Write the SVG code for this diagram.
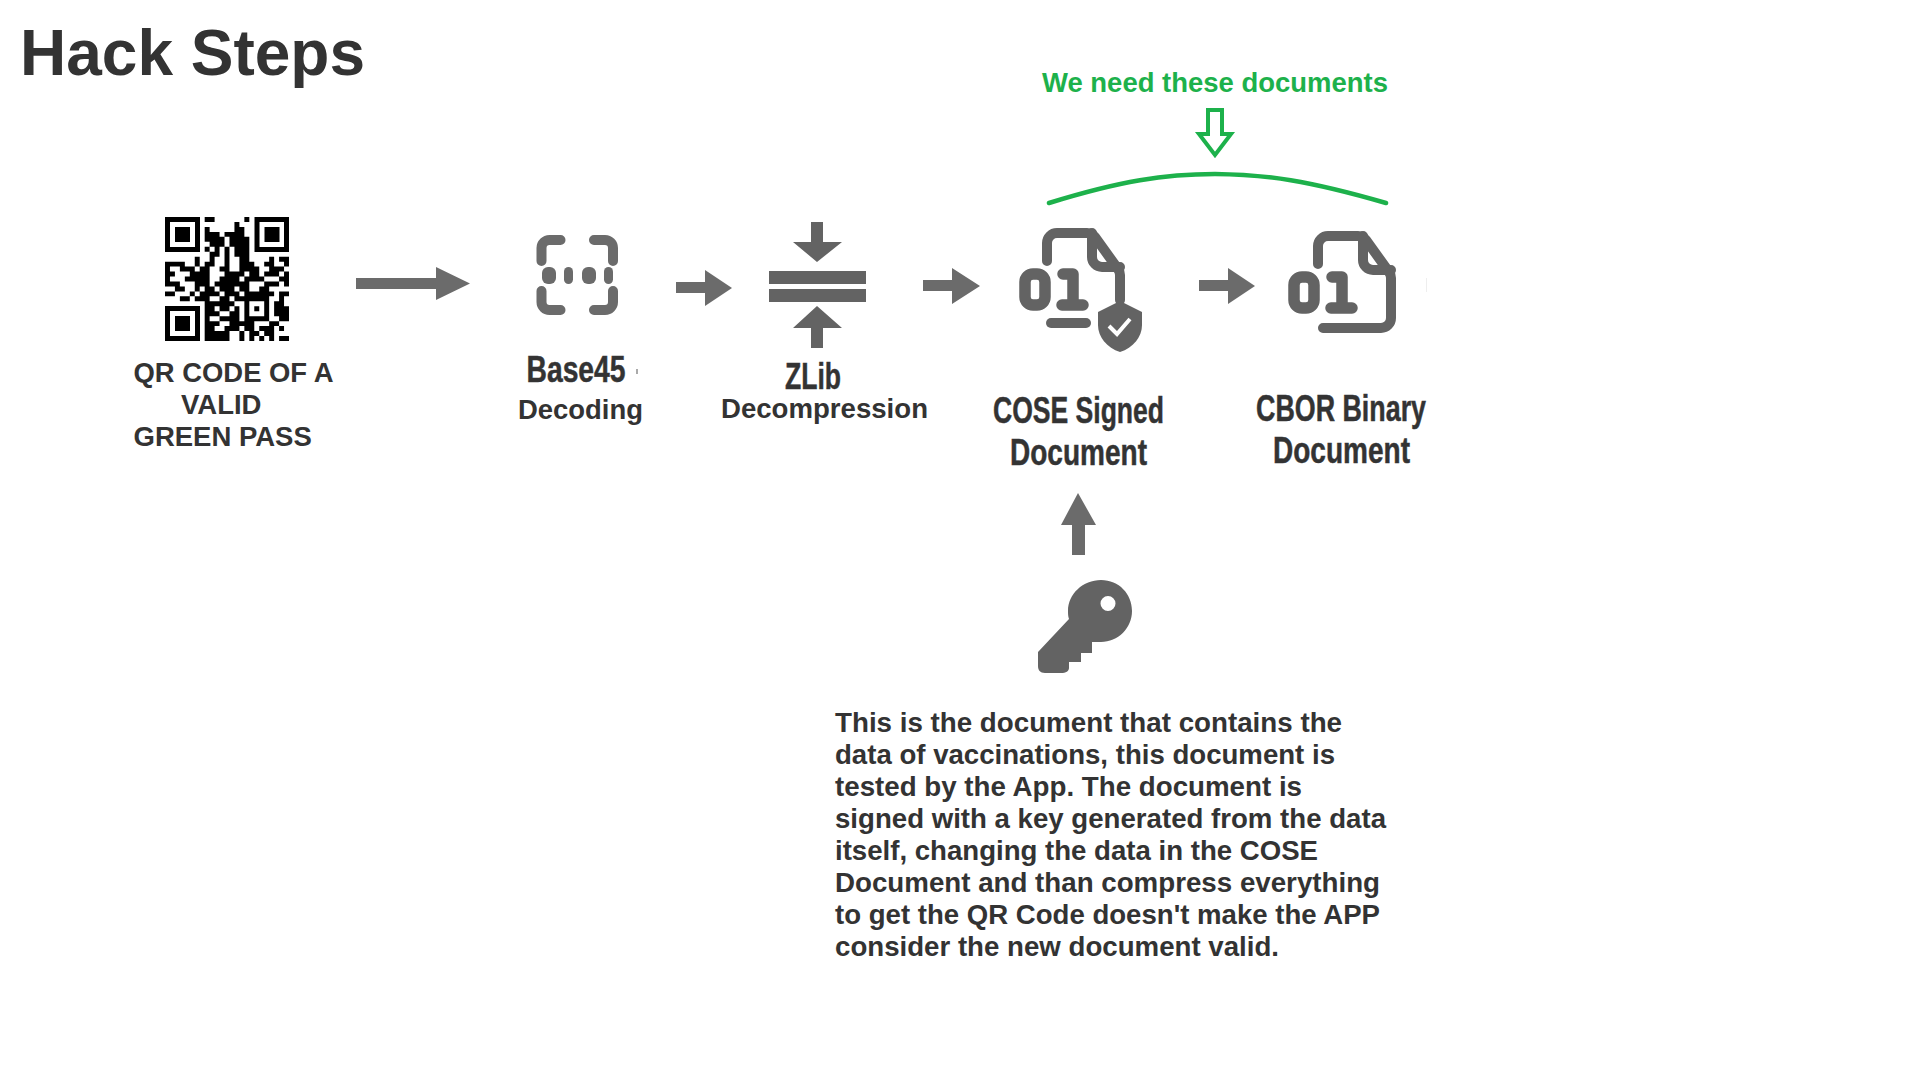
<svg xmlns="http://www.w3.org/2000/svg" width="1920" height="1080" viewBox="0 0 1920 1080">
<style>
text{font-family:"Liberation Sans",Arial,sans-serif;font-weight:700;fill:#333}
.s{font-size:27.5px}
.c{font-size:36px;stroke:#3a3a3a;stroke-width:.5}
.g{fill:#636363}
.a{fill:#6b6b6b}
.ic{fill:none;stroke:#636363;stroke-width:10;stroke-linecap:round;stroke-linejoin:round}
.d{stroke-width:11.500}
</style>
<rect width="1920" height="1080" fill="#fff"/>
<text id="title" x="20" y="75" font-size="64" textLength="345" lengthAdjust="spacingAndGlyphs">Hack Steps</text>
<g id="qr">
<g fill="none" stroke="#000" stroke-width="5">
<rect x="167.500" y="219.500" width="30" height="30"/><rect x="257" y="219.500" width="29.500" height="30"/><rect x="167.500" y="308.500" width="30" height="30"/>
</g>
<rect x="175" y="227" width="15" height="15"/><rect x="264.500" y="227" width="15" height="15"/><rect x="175" y="316" width="15" height="15"/>
<path transform="translate(165 217) scale(4.96)" fill="none" stroke="#000" stroke-width="1" d="M8 .5h2M16 .5h1M14 1.500h1M8 2.500h1M14 2.500h2M8 3.500h3M12 3.500h4M8 4.500h4M13 4.500h4M9 5.500h3M13 5.500h4M8 6.500h1M10 6.500h1M12 6.500h1M14 6.500h3M9 7.500h2M12 7.500h1M14 7.500h3M6 8.500h1M9 8.500h1M12 8.500h1M15 8.500h2M21 8.500h1M23 8.500h2M0 9.500h4M6 9.500h1M8 9.500h2M12 9.500h1M15 9.500h3M20 9.500h2M24 9.500h1M0 10.500h1M3 10.500h3M7 10.500h2M11 10.500h2M15 10.500h4M21 10.500h3M0 11.500h2M5 11.500h4M12 11.500h4M17 11.500h2M20 11.500h3M24 11.500h1M0 12.500h1M4 12.500h5M11 12.500h4M16 12.500h4M23 12.500h2M0 13.500h3M6 13.500h3M10 13.500h7M20 13.500h3M24 13.500h1M2 14.500h2M6 14.500h1M8 14.500h2M11 14.500h3M15 14.500h2M19 14.500h2M0 15.500h2M5 15.500h1M7 15.500h4M12 15.500h3M16 15.500h6M23 15.500h2M3 16.500h2M6 16.500h3M11 16.500h2M14 16.500h7M23 16.500h1M8 17.500h6M16 17.500h1M20 17.500h1M22 17.500h2M8 18.500h2M11 18.500h2M14 18.500h1M16 18.500h1M18 18.500h1M20 18.500h1M22 18.500h3M8 19.500h3M13 19.500h2M16 19.500h1M20 19.500h1M22 19.500h3M8 20.500h1M11 20.500h4M16 20.500h5M23 20.500h2M8 21.500h3M13 21.500h5M21 21.500h2M8 22.500h2M12 22.500h3M16 22.500h2M19 22.500h3M23 22.500h1M8 23.500h5M15 23.500h1M17 23.500h2M20 23.500h2M8 24.500h5M15 24.500h1M17 24.500h1M19 24.500h1M21 24.500h1M23 24.500h2"/>
<text class="s" x="133.500" y="382" textLength="200" lengthAdjust="spacingAndGlyphs">QR CODE OF A</text>
<text class="s" x="181" y="414">VALID</text>
<text class="s" x="133.500" y="446">GREEN PASS</text>
</g>
<g id="base45">
<path class="ic" style="stroke:#6b6b6b" d="M541.500 261v-13a8 8 0 0 1 8-8h11M594 240h11a8 8 0 0 1 8 8v13M613 291v11a8 8 0 0 1-8 8h-11M560.500 310h-11a8 8 0 0 1-8-8v-11"/>
<g fill="#6b6b6b"><rect x="542" y="267" width="14" height="17" rx="6"/><rect x="564" y="267" width="9" height="17" rx="4.500"/><rect x="582" y="267" width="14" height="17" rx="6"/><rect x="604" y="267" width="9" height="17" rx="4.500"/></g>
<text class="c" x="526.500" y="382" textLength="99" lengthAdjust="spacingAndGlyphs">Base45</text>
<rect x="636" y="369" width="2" height="5" fill="#aaa"/>
<text class="s" x="518" y="419" textLength="125" lengthAdjust="spacingAndGlyphs">Decoding</text>
</g>
<g id="zlib" class="g">
<rect x="769" y="271" width="97" height="13"/><rect x="769" y="289" width="97" height="13"/>
<path d="M811 222h12v20h19l-25 20-24-20h18z"/>
<path d="M811 348h12v-20h19l-25-22-24 22h18z"/>
<text class="c" x="785" y="389" textLength="56" lengthAdjust="spacingAndGlyphs">ZLib</text>
<text class="s" x="721" y="418" textLength="207" lengthAdjust="spacingAndGlyphs">Decompression</text>
</g>
<g id="cose">
<g class="ic">
<path d="M1047 261v-18a10 10 0 0 1 10-10h30a10 10 0 0 1 8 4l23 32a10 10 0 0 1 2 6v25"/>
<path d="M1092 233v24a10 10 0 0 0 10 10h18"/>
<rect class="d" x="1025" y="274" width="20" height="31" rx="8"/>
<path class="d" d="M1063 274h10v31M1062 305h21"/>
<path d="M1051 323h35"/>
</g>
<path class="g" d="M1120 301l22 11v13c0 12-9 23-22 27-13-4-22-15-22-27v-13z"/>
<path d="M1109 326l8 8 13-15" fill="none" stroke="#fff" stroke-width="4"/>
<text class="c" x="993" y="422.500" textLength="171" lengthAdjust="spacingAndGlyphs">COSE Signed</text>
<text class="c" x="1010" y="464.800" textLength="137" lengthAdjust="spacingAndGlyphs">Document</text>
</g>
<g id="cbor">
<g class="ic">
<path d="M1318 264v-18a10 10 0 0 1 10-10h30a10 10 0 0 1 8 4l23 32a10 10 0 0 1 2 6v40a10 10 0 0 1-10 10h-58"/>
<path d="M1363 236v24a10 10 0 0 0 10 10h18"/>
<rect class="d" x="1294" y="277" width="20" height="31" rx="8"/>
<path class="d" d="M1332 277h10v31M1331 308h21"/>
</g>
<rect x="1426" y="278" width="1" height="14" fill="#eee"/>
<text class="c" x="1256" y="420.800" textLength="170" lengthAdjust="spacingAndGlyphs">CBOR Binary</text>
<text class="c" x="1273" y="462.800" textLength="137" lengthAdjust="spacingAndGlyphs">Document</text>
</g>
<g id="key">
<path class="g" fill-rule="evenodd" d="M1101 580c18 0 31 14 31 31s-14 31-31 31h-9v11h-11v9h-12v6c0 3-3 5-8 5h-16c-5 0-7-3-7-7v-14l31-33c-1-3-1-5-1-8 0-17 15-31 33-31zm7 16a7 7 0 1 0 0 15 7 7 0 1 0 0-15z"/>
</g>
<g id="note">
<text class="s"><tspan x="835" y="732" textLength="507" lengthAdjust="spacingAndGlyphs">This is the document that contains the</tspan><tspan x="835" y="764" textLength="500" lengthAdjust="spacingAndGlyphs">data of vaccinations, this document is</tspan><tspan x="835" y="796" textLength="467" lengthAdjust="spacingAndGlyphs">tested by the App. The document is</tspan><tspan x="835" y="828" textLength="551" lengthAdjust="spacingAndGlyphs">signed with a key generated from the data</tspan><tspan x="835" y="860" textLength="483" lengthAdjust="spacingAndGlyphs">itself, changing the data in the COSE</tspan><tspan x="835" y="892" textLength="545" lengthAdjust="spacingAndGlyphs">Document and than compress everything</tspan><tspan x="835" y="924" textLength="545" lengthAdjust="spacingAndGlyphs">to get the QR Code doesn't make the APP</tspan><tspan x="835" y="955.500" textLength="444" lengthAdjust="spacingAndGlyphs">consider the new document valid.</tspan></text>
</g>
<g id="need">
<text class="s" x="1042" y="92" textLength="346" lengthAdjust="spacingAndGlyphs" style="fill:#1db14b">We need these documents</text>
<path d="M1208 110h14v24h9l-16 21-16-21h9z" fill="none" stroke="#1db14b" stroke-width="4"/>
<path d="M1049 203C1120 181 1165 174 1215 174S1310 181 1386 203" fill="none" stroke="#1db14b" stroke-width="4.500" stroke-linecap="round"/>
</g>
<g id="connectors" class="a">
<path d="M356 278h80v-11l34 16.500-34 16.500v-11h-80z"/>
<path d="M676 282h29v-12l27 18-27 18v-13h-29z"/>
<path d="M923 280h29v-12l28 18-28 18v-13h-29z"/>
<path d="M1199 280h29v-12l27 18-27 18v-13h-29z"/>
<path d="M1072 555v-30h-11l17-32 18 32h-11v30z"/>
</g>
</svg>
